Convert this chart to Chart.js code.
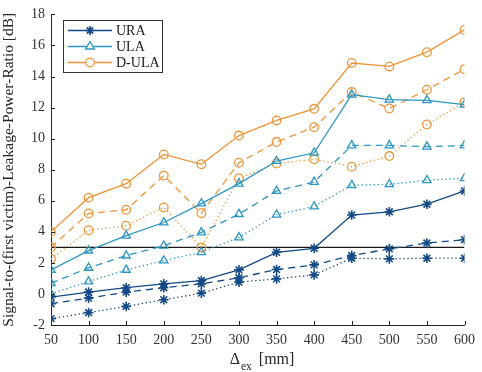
<!DOCTYPE html>
<html>
<head>
<meta charset="utf-8">
<script src="https://cdn.jsdelivr.net/npm/chart.js@4.4.1/dist/chart.umd.min.js"></script>
<style>
  html, body { margin: 0; padding: 0; background: #fff; }
  #wrap { width: 482px; height: 372px; }
</style>
</head>
<body>
<div id="wrap"><canvas id="slpr"></canvas></div>
<script>
// Delta_ex values [mm]
const spacing = [50, 100, 150, 200, 250, 300, 350, 400, 450, 500, 550, 600];

// URA (asterisk), three variants: solid / dashed / dotted
const uraSolid  = [-0.2, 0.12, 0.4, 0.65, 0.86, 1.55, 2.68, 2.94, 5.08, 5.29, 5.78, 6.63];
const uraDash   = [-0.63, -0.27, 0.12, 0.4, 0.65, 1.04, 1.57, 1.87, 2.47, 2.9, 3.28, 3.49];
const uraDot    = [-1.59, -1.2, -0.8, -0.37, 0.05, 0.76, 0.97, 1.23, 2.3, 2.26, 2.3, 2.3];

// ULA (triangle)
const ulaSolid  = [1.55, 2.79, 3.75, 4.6, 5.82, 7.1, 8.56, 9.09, 12.83, 12.51, 12.47, 12.19];
const ulaDash   = [0.69, 1.68, 2.47, 3.1, 3.96, 5.14, 6.63, 7.21, 9.56, 9.56, 9.48, 9.56];
const ulaDot    = [0.01, 0.8, 1.55, 2.15, 2.68, 3.64, 5.1, 5.63, 7.0, 7.06, 7.32, 7.45];

// D-ULA (circle)
const dulaSolid = [4.0, 6.2, 7.1, 8.98, 8.35, 10.2, 11.17, 11.92, 14.87, 14.65, 15.57, 17.0];
const dulaDash  = [3.0, 5.18, 5.42, 7.62, 5.2, 8.45, 9.78, 10.74, 13.0, 11.94, 13.15, 14.47];
const dulaDot   = [2.25, 4.1, 4.39, 5.57, 3.0, 7.45, 8.4, 8.67, 8.19, 8.88, 10.91, 12.34];

// 3 dB reference line
const threshold = 3;

const yTicks = [-2, 0, 2, 4, 6, 8, 10, 12, 14, 16, 18];

const C_URA = '#134a86';
const C_ULA = '#2b96c2';
const C_DULA = '#ee9538';
const SERIF = '"Liberation Serif", "DejaVu Serif", serif';

function pts(vals) {
    return vals.map((v, i) => ({ x: spacing[i], y: v }));
}

function serie(label, vals, color, marker, dash) {
    return {
        label: label,
        data: pts(vals),
        borderColor: color,
        backgroundColor: 'rgba(0,0,0,0)',
        borderWidth: 1.3,
        borderDash: dash,
        pointStyle: marker,
        pointRadius: marker === 'circle' ? 4.3 : 4.8,
        pointBorderColor: color,
        pointBackgroundColor: 'rgba(0,0,0,0)',
        pointBorderWidth: marker === 'star' ? 1.6 : 1.3,
        tension: 0
    };
}

const DASH = [7, 5];
const DOT = [1.3, 2.7];

// dibuja ticks hacia adentro, leyenda y titulo del eje x con subindice
const extras = {
    id: 'extras',
    afterDraw(chart) {
        const ctx = chart.ctx;
        const xs = chart.scales.x;
        const ys = chart.scales.y;
        const area = chart.chartArea;
        ctx.save();
        ctx.strokeStyle = '#262626';
        ctx.lineWidth = 1;
        ctx.beginPath();
        spacing.forEach(v => {
            const px = Math.round(xs.getPixelForValue(v)) + 0.5;
            ctx.moveTo(px, area.bottom);
            ctx.lineTo(px, area.bottom - 4);
        });
        yTicks.forEach(v => {
            const py = Math.round(ys.getPixelForValue(v)) + 0.5;
            ctx.moveTo(area.left, py);
            ctx.lineTo(area.left + 4, py);
        });
        ctx.stroke();

        // titulo eje x: Δ_ex [mm]
        ctx.fillStyle = '#262626';
        ctx.textBaseline = 'alphabetic';
        const big = '16px ' + SERIF;
        const small = '11.5px ' + SERIF;
        ctx.font = big;
        const cx = 262;
        const yBase = 364;
        const wD = ctx.measureText('\u0394').width;
        ctx.font = small;
        const wSub = ctx.measureText('ex').width;
        ctx.font = big;
        const wRest = ctx.measureText('  [mm]').width;
        let x0 = cx - (wD + wSub + wRest) / 2;
        ctx.textAlign = 'left';
        ctx.fillText('\u0394', x0, yBase);
        ctx.font = small;
        ctx.fillText('ex', x0 + wD + 1, yBase + 6);
        ctx.font = big;
        ctx.fillText('  [mm]', x0 + wD + wSub, yBase);

        // leyenda
        const bx = 63.5, by = 20.5, bw = 99, bh = 52;
        ctx.fillStyle = '#fff';
        ctx.fillRect(bx, by, bw, bh);
        ctx.strokeStyle = '#333';
        ctx.lineWidth = 1;
        ctx.strokeRect(bx, by, bw, bh);
        const items = [
            ['URA', C_URA, 'star'],
            ['ULA', C_ULA, 'triangle'],
            ['D-ULA', C_DULA, 'circle']
        ];
        items.forEach((it, i) => {
            const ly = 30.5 + i * 16;
            ctx.strokeStyle = it[1];
            ctx.lineWidth = 1.3;
            ctx.beginPath();
            ctx.moveTo(68, ly);
            ctx.lineTo(112, ly);
            ctx.stroke();
            const mx = 90;
            ctx.beginPath();
            if (it[2] === 'star') {
                const r = 4.5;
                ctx.lineWidth = 1.6;
                for (let k = 0; k < 4; k++) {
                    const a = k * Math.PI / 4;
                    ctx.moveTo(mx - r * Math.cos(a), ly - r * Math.sin(a));
                    ctx.lineTo(mx + r * Math.cos(a), ly + r * Math.sin(a));
                }
            } else if (it[2] === 'triangle') {
                const r = 5;
                ctx.fillStyle = '#fff';
                ctx.moveTo(mx, ly - r);
                ctx.lineTo(mx + r * 0.87, ly + r * 0.5);
                ctx.lineTo(mx - r * 0.87, ly + r * 0.5);
                ctx.closePath();
                ctx.fill();
            } else {
                ctx.fillStyle = '#fff';
                ctx.arc(mx, ly, 4.3, 0, Math.PI * 2);
                ctx.fill();
            }
            ctx.stroke();
            ctx.fillStyle = '#1a1a1a';
            ctx.font = '14px ' + SERIF;
            ctx.textAlign = 'left';
            ctx.textBaseline = 'middle';
            ctx.fillText(it[0], 116, ly + 1);
        });
        ctx.restore();
    }
};

const ctx = document.getElementById('slpr').getContext('2d');

new Chart(ctx, {
    type: 'line',
    data: {
        datasets: [
            serie('URA', uraSolid, C_URA, 'star', []),
            serie('URA dashed', uraDash, C_URA, 'star', DASH),
            serie('URA dotted', uraDot, C_URA, 'star', DOT),
            serie('ULA', ulaSolid, C_ULA, 'triangle', []),
            serie('ULA dashed', ulaDash, C_ULA, 'triangle', DASH),
            serie('ULA dotted', ulaDot, C_ULA, 'triangle', DOT),
            serie('D-ULA', dulaSolid, C_DULA, 'circle', []),
            serie('D-ULA dashed', dulaDash, C_DULA, 'circle', DASH),
            serie('D-ULA dotted', dulaDot, C_DULA, 'circle', DOT),
            {
                label: 'threshold',
                data: [{ x: spacing[0], y: threshold }, { x: spacing[spacing.length - 1], y: threshold }],
                borderColor: '#1a1a1a',
                borderWidth: 1.2,
                pointRadius: 0,
                fill: false
            }
        ]
    },
    options: {
        responsive: true,
        maintainAspectRatio: false,
        animation: false,
        layout: {
            padding: { top: 13, right: 10, left: 0, bottom: 0 }
        },
        plugins: {
            legend: { display: false },
            tooltip: { enabled: false }
        },
        scales: {
            x: {
                type: 'linear',
                min: 50,
                max: 600,
                afterFit: s => { s.height = 47; },
                afterBuildTicks: s => { s.ticks = spacing.map(v => ({ value: v })); },
                grid: { display: false, drawTicks: false },
                border: { display: true, color: '#262626', width: 1 },
                ticks: {
                    color: '#333',
                    padding: 7,
                    maxRotation: 0,
                    font: { family: SERIF, size: 14 }
                }
            },
            y: {
                min: -2,
                max: 18,
                afterFit: s => { s.width = 51; },
                afterBuildTicks: s => { s.ticks = yTicks.map(v => ({ value: v })); },
                grid: { display: false, drawTicks: false },
                border: { display: true, color: '#262626', width: 1 },
                ticks: {
                    color: '#333',
                    padding: 6,
                    font: { family: SERIF, size: 14 }
                },
                title: {
                    display: true,
                    text: 'Signal-to-(first victim)-Leakage-Power-Ratio [dB]',
                    color: '#262626',
                    padding: { top: 0, bottom: 0 },
                    font: { family: SERIF, size: 15.5 }
                }
            }
        }
    },
    plugins: [extras]
});
</script>
</body>
</html>
